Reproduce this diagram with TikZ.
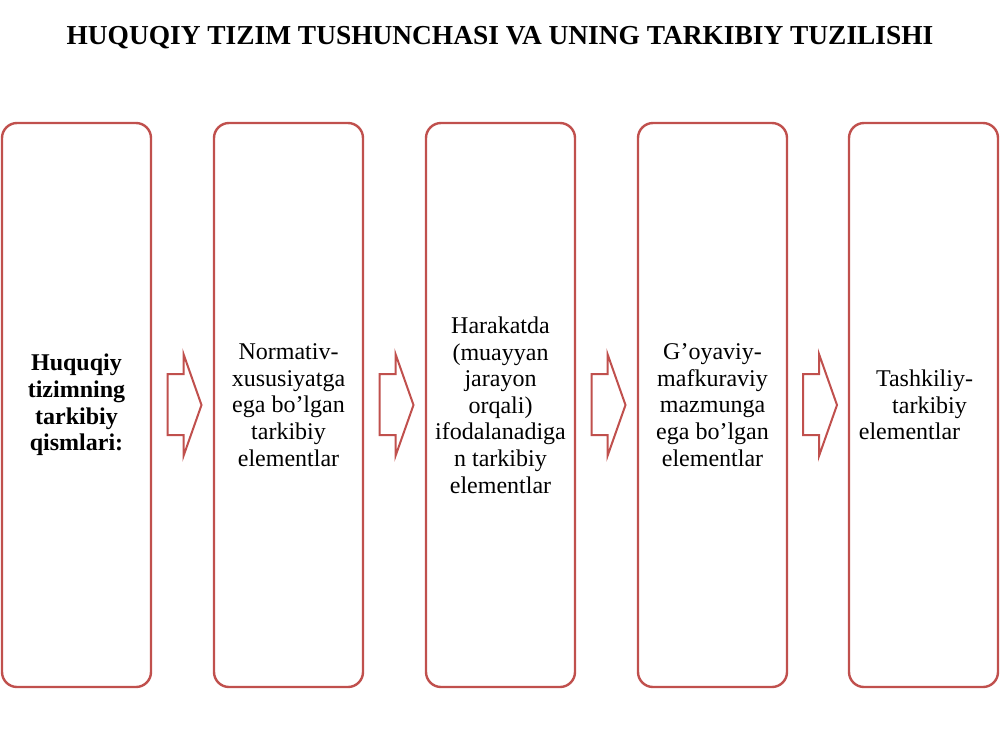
\documentclass[tikz,border=0pt]{standalone}
\usepackage{fontspec}
\setmainfont{Liberation Serif}
\usetikzlibrary{calc}
\definecolor{boxred}{HTML}{C0504D}
\tikzset{
  stagebox/.style={draw=boxred, line width=2.4pt, fill=white, rounded corners=15pt,
    minimum width=149pt, minimum height=564pt, inner sep=0pt, align=center,
    font=\fontsize{24}{26.6}\selectfont},
  blockarrow/.style={draw=boxred, line width=2pt, fill=white, line join=miter}
}
\begin{document}
\begin{tikzpicture}[x=1pt,y=-1pt]
\useasboundingbox (0,0) rectangle (1000,750);
\node[font=\bfseries\fontsize{27.4}{30}\selectfont] (title) at (500,38) {HUQUQIY TIZIM TUSHUNCHASI VA UNING TARKIBIY TUZILISHI};
\node[stagebox] (b1) at (76.5,405) {\bfseries Huquqiy\\\bfseries tizimning\\\bfseries tarkibiy\\\bfseries qismlari:};
\node[stagebox] (b2) at (288.5,405) {Normativ-\\xususiyatga\\ega bo’lgan\\tarkibiy\\elementlar};
\node[stagebox] (b3) at (500.5,405) {Harakatda\\(muayyan\\jarayon\\orqali)\\ifodalanadiga\\n tarkibiy\\elementlar};
\node[stagebox] (b4) at (712.5,405) {G’oyaviy-\\mafkuraviy\\mazmunga\\ega bo’lgan\\elementlar};
\node[stagebox] (b5) at (923.5,405) {\hspace*{2pt}Tashkiliy-\\\hspace*{12pt}tarkibiy\\elementlar\hspace*{28pt}};
\foreach \a/\b in {b1/b2,b2/b3,b3/b4,b4/b5}{
  \coordinate (m) at ($(\a.east)!0.5!(\b.west)$);
  \draw[blockarrow] (m) ++(-15,-31) -- ++(16,0) -- ++(0,-20) -- ++(18,51) -- ++(-18,51) -- ++(0,-21) -- ++(-16,0) -- cycle;
}
\end{tikzpicture}
\end{document}
